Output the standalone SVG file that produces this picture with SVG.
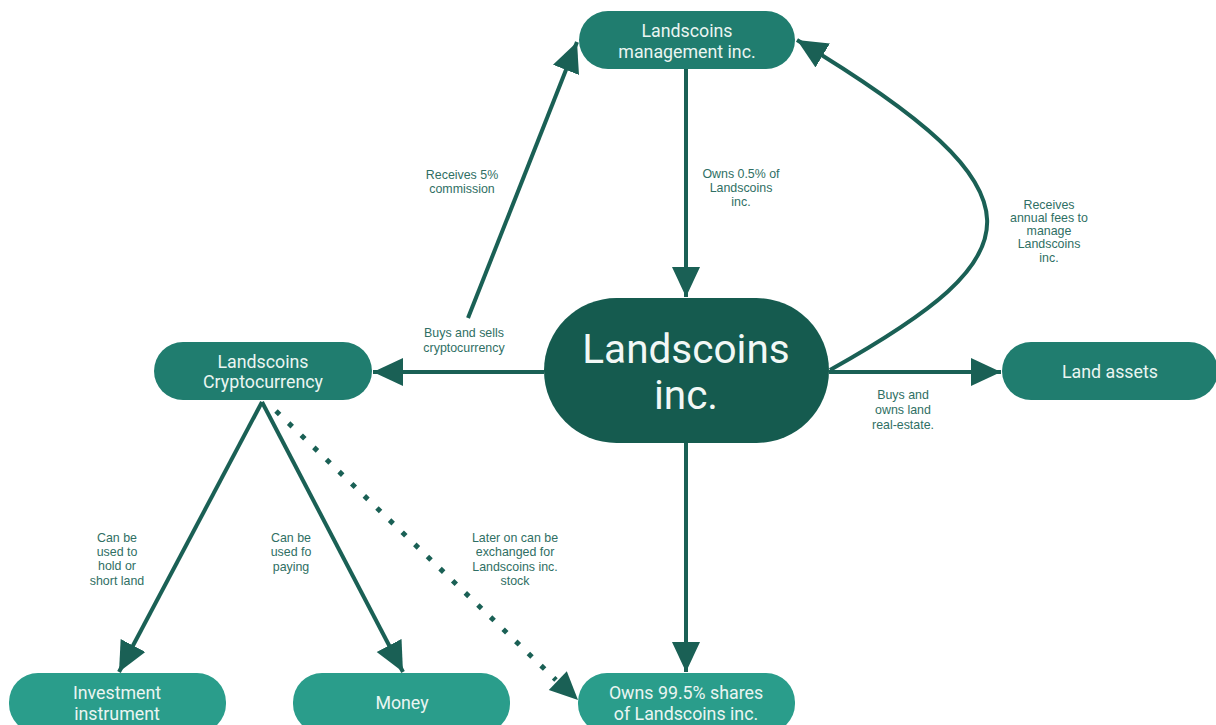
<svg xmlns="http://www.w3.org/2000/svg" width="1216" height="725" viewBox="0 0 1216 725">
<style>
.n1{fill:#207d6f}
.n2{fill:#2a9d8b}
.nc{fill:#155b4f}
.nt{font-family:Roboto,"Liberation Sans",sans-serif;font-size:17.8px;fill:#eaf5f2;text-anchor:middle}
.big{font-family:Roboto,"Liberation Sans",sans-serif;font-size:40.5px;fill:#f2f8f6;text-anchor:middle}
.lb{font-family:"Liberation Sans",Arial,sans-serif;font-size:12.4px;fill:#2f6f64;text-anchor:middle}
.e{stroke:#1a6055;stroke-width:4;fill:none}
</style>
<defs>
<marker id="ah" markerUnits="userSpaceOnUse" markerWidth="32" markerHeight="30" refX="30" refY="14" orient="auto">
<path d="M0,0 L30,14 L0,28 z" fill="#1a6055"/>
</marker>
</defs>
<g id="connectors">
<line class="e" x1="686" y1="69" x2="686" y2="297" marker-end="url(#ah)"/>
<line class="e" x1="544" y1="372" x2="373" y2="372" marker-end="url(#ah)"/>
<line class="e" x1="829" y1="372" x2="1001" y2="372" marker-end="url(#ah)"/>
<line class="e" x1="686" y1="443" x2="686" y2="672" marker-end="url(#ah)"/>
<line class="e" x1="468" y1="318" x2="577" y2="42" marker-end="url(#ah)"/>
<path class="e" d="M830,370 C1035,255 1055,195 797,40" marker-end="url(#ah)"/>
<line class="e" x1="262" y1="402" x2="119" y2="672" marker-end="url(#ah)"/>
<line class="e" x1="262" y1="402" x2="403" y2="672" marker-end="url(#ah)"/>
<line x1="276" y1="411" x2="556" y2="680" stroke="#1a6055" stroke-width="5" stroke-dasharray="5 12.5" stroke-linecap="butt"/>
<path d="M566.8,671.3 L578,700 L548.8,690.1 z" fill="#1a6055"/>
</g>
<g id="labels">
<text class="lb" x="462" y="179">Receives 5%</text>
<text class="lb" x="462" y="193">commission</text>
<text class="lb" x="741" y="178">Owns 0.5% of</text>
<text class="lb" x="741" y="192">Landscoins</text>
<text class="lb" x="741" y="206">inc.</text>
<text class="lb" x="1049" y="209" font-size="11.4">Receives</text>
<text class="lb" x="1049" y="222" font-size="11.4">annual fees to</text>
<text class="lb" x="1049" y="235" font-size="11.4">manage</text>
<text class="lb" x="1049" y="248" font-size="11.4">Landscoins</text>
<text class="lb" x="1049" y="262" font-size="11.4">inc.</text>
<text class="lb" x="464" y="337">Buys and sells</text>
<text class="lb" x="464" y="352">cryptocurrency</text>
<text class="lb" x="903" y="399">Buys and</text>
<text class="lb" x="903" y="414">owns land</text>
<text class="lb" x="903" y="429">real-estate.</text>
<text class="lb" x="117" y="542">Can be</text>
<text class="lb" x="117" y="556">used to</text>
<text class="lb" x="117" y="570">hold or</text>
<text class="lb" x="117" y="585">short land</text>
<text class="lb" x="291" y="542">Can be</text>
<text class="lb" x="291" y="556">used fo</text>
<text class="lb" x="291" y="571">paying</text>
<text class="lb" x="515" y="542">Later on can be</text>
<text class="lb" x="515" y="556">exchanged for</text>
<text class="lb" x="515" y="571">Landscoins inc.</text>
<text class="lb" x="515" y="585">stock</text>
</g>
<g id="node-management">
<rect class="n1" x="579" y="11" width="216" height="58" rx="29"/>
<text class="nt" x="687" y="37">Landscoins</text>
<text class="nt" x="687" y="58">management inc.</text>
</g>
<g id="node-central">
<rect class="nc" x="544" y="298" width="285" height="145" rx="72.5"/>
<text class="big" x="686" y="363">Landscoins</text>
<text class="big" x="686" y="409">inc.</text>
</g>
<g id="node-crypto">
<rect class="n1" x="154" y="342" width="218" height="58" rx="29"/>
<text class="nt" x="263" y="368">Landscoins</text>
<text class="nt" x="263" y="388">Cryptocurrency</text>
</g>
<g id="node-land">
<rect class="n1" x="1002" y="342" width="216" height="58" rx="29"/>
<text class="nt" x="1110" y="378">Land assets</text>
</g>
<g id="node-investment">
<rect class="n2" x="9" y="673" width="217" height="60" rx="29"/>
<text class="nt" x="117" y="699">Investment</text>
<text class="nt" x="117" y="720">instrument</text>
</g>
<g id="node-money">
<rect class="n2" x="293" y="673" width="217" height="60" rx="29"/>
<text class="nt" x="402" y="709">Money</text>
</g>
<g id="node-owns">
<rect class="n2" x="578" y="673" width="217" height="60" rx="29"/>
<text class="nt" x="686" y="699">Owns 99.5% shares</text>
<text class="nt" x="686" y="720">of Landscoins inc.</text>
</g>
</svg>
